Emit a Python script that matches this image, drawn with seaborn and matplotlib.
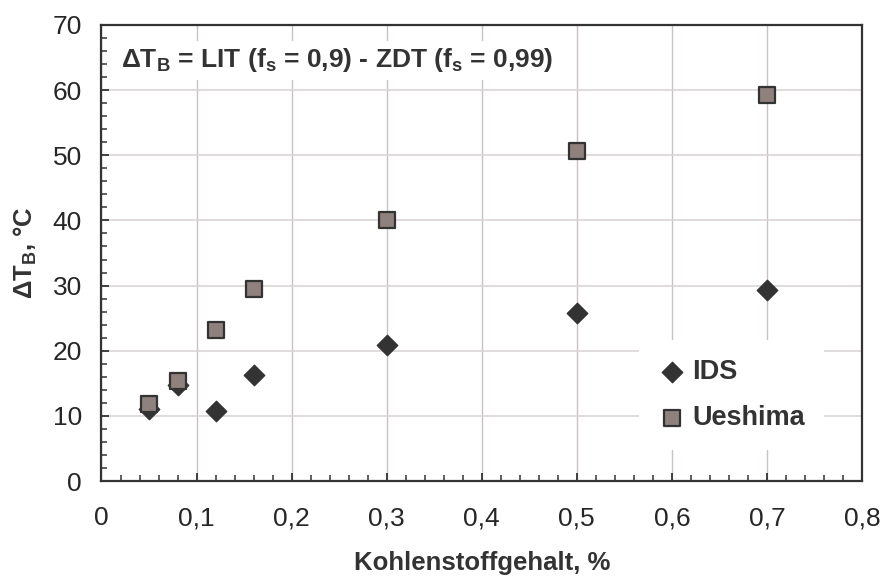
import numpy as np
import pandas as pd
import matplotlib
matplotlib.use("Agg")
import matplotlib.pyplot as plt
from matplotlib.ticker import MultipleLocator, FuncFormatter
import seaborn as sns

# Kohlenstoffgehalt in % und Temperaturdifferenz ΔT_B in °C
kohlenstoff = [0.05, 0.08, 0.12, 0.16, 0.30, 0.50, 0.70]
dT_ids = [11.0, 14.8, 10.8, 16.3, 20.9, 25.8, 29.3]
dT_ueshima = [11.8, 15.3, 23.2, 29.4, 40.1, 50.6, 59.2]
reihen = ["IDS", "Ueshima"]
x_ticks = [0.0, 0.1, 0.2, 0.3, 0.4, 0.5, 0.6, 0.7, 0.8]
y_ticks = [0, 10, 20, 30, 40, 50, 60, 70]

df = pd.DataFrame({
    "C": kohlenstoff * 2,
    "dT": dT_ids + dT_ueshima,
    "Reihe": [reihen[0]] * len(kohlenstoff) + [reihen[1]] * len(kohlenstoff),
})

sns.set_theme(style="white")
plt.rcParams["font.family"] = ["Liberation Sans", "DejaVu Sans"]
plt.rcParams["mathtext.fontset"] = "custom"
plt.rcParams["mathtext.rm"] = "Liberation Sans"
plt.rcParams["mathtext.bf"] = "Liberation Sans:bold"

dark = "#333333"
grid_h = "#dad5d5"
grid_v = "#cbc1c1"

fig = plt.figure(figsize=(8.81, 5.78), dpi=100)
ax = fig.add_axes([0.1152, 0.1678, 0.8632, 0.789])

sns.scatterplot(data=df[df["Reihe"] == "IDS"], x="C", y="dT", marker="D",
                s=108, color=dark, edgecolor=dark, linewidth=1.0,
                label="IDS", ax=ax, zorder=3)
sns.scatterplot(data=df[df["Reihe"] == "Ueshima"], x="C", y="dT", marker="s",
                s=125, color="#8e817e", edgecolor=dark, linewidth=1.6,
                label="Ueshima", ax=ax, zorder=4)

ax.set_xlim(0, 0.8)
ax.set_ylim(0, 70)
ax.set_xticks(x_ticks)
ax.set_yticks(y_ticks)
ax.xaxis.set_minor_locator(MultipleLocator(0.02))
ax.yaxis.set_minor_locator(MultipleLocator(2))
ax.xaxis.set_major_formatter(FuncFormatter(lambda v, p: f"{v:.1f}".replace(".", ",") if v else "0"))
ax.yaxis.set_major_formatter(FuncFormatter(lambda v, p: f"{v:.0f}"))

ax.xaxis.grid(True, which="major", color=grid_v, linewidth=1.0, zorder=0)
ax.yaxis.grid(True, which="major", color=grid_h, linewidth=1.2, zorder=0)
ax.set_axisbelow(True)
for s in ax.spines.values():
    s.set_color(dark)
    s.set_linewidth(1.6)
ax.tick_params(axis="both", which="major", direction="in", length=6, width=1.3,
               color=dark, labelsize=19, labelcolor="#262626")
ax.tick_params(axis="x", which="major", pad=18)
ax.tick_params(axis="y", which="major", pad=14)
ax.tick_params(axis="both", which="minor", direction="in", length=4.5, width=1.1,
               color=dark)
ax.tick_params(axis="x", which="both", top=False, bottom=True)
ax.tick_params(axis="y", which="both", left=True, right=False)

ax.set_xlabel("Kohlenstoffgehalt, %", fontsize=18.5, fontweight="bold",
              color=dark, labelpad=15)
ax.set_ylabel(r"$\mathbf{\Delta T_B}$, °C", fontsize=18.5, fontweight="bold",
              color=dark, labelpad=10)

ax.text(0.021, 64.6,
        r"$\mathbf{\Delta T_B}$ = LIT ($\mathbf{f_s}$ = 0,9) - ZDT ($\mathbf{f_s}$ = 0,99)",
        fontsize=19, fontweight="bold", color=dark, va="center", ha="left",
        bbox=dict(facecolor="white", edgecolor="none", pad=4), zorder=2)

leg = ax.legend(loc="upper left", bbox_to_anchor=(0.70, 0.32), frameon=True,
                prop={"weight": "bold", "size": 19.5},
                handletextpad=0.25, labelspacing=0.72, borderpad=0.4,
                handlelength=1.0, markerscale=1.0)
leg.get_frame().set_facecolor("white")
leg.get_frame().set_edgecolor("none")
leg.get_frame().set_alpha(1.0)
leg.get_frame().set_boxstyle("square")
for t in leg.get_texts():
    t.set_color(dark)

fig.savefig("out.png", dpi=100, facecolor="white")
